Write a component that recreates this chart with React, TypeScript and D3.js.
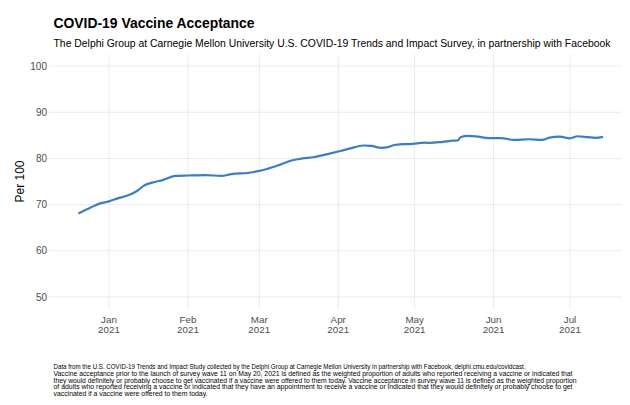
import React from "react";
import * as d3 from "d3";

const dates: string[] = [
  "2020-12-20","2020-12-25","2020-12-28","2021-01-01","2021-01-05","2021-01-08",
  "2021-01-12","2021-01-15","2021-01-19","2021-01-22","2021-01-27","2021-02-01",
  "2021-02-08","2021-02-14","2021-02-18","2021-02-25","2021-03-01","2021-03-04",
  "2021-03-09","2021-03-14","2021-03-18","2021-03-22","2021-03-29","2021-04-01",
  "2021-04-05","2021-04-11","2021-04-14","2021-04-18","2021-04-20","2021-04-23",
  "2021-04-27","2021-04-29","2021-05-05","2021-05-07","2021-05-12","2021-05-16",
  "2021-05-18","2021-05-19","2021-05-22","2021-05-26","2021-05-30","2021-06-04",
  "2021-06-09","2021-06-15","2021-06-20","2021-06-23","2021-06-27","2021-07-01",
  "2021-07-04","2021-07-08","2021-07-11","2021-07-14"
];
const acceptance: number[] = [
  68.05,69.4,70.15,70.7,71.45,71.9,
  72.95,74.2,74.9,75.3,76.2,76.3,
  76.4,76.2,76.6,76.9,77.3,77.7,
  78.6,79.6,80.0,80.25,81.1,81.5,
  82.05,82.8,82.7,82.3,82.4,82.9,
  83.1,83.1,83.4,83.35,83.6,83.85,
  83.9,84.6,84.9,84.7,84.4,84.4,
  84.0,84.15,84.0,84.5,84.7,84.35,
  84.8,84.6,84.45,84.65
];
const yTicks: number[] = [50, 60, 70, 80, 90, 100];
const monthTicks: string[] = ["2021-01-01","2021-02-01","2021-03-01","2021-04-01","2021-05-01","2021-06-01","2021-07-01"];
const monthLabels: string[] = ["Jan","Feb","Mar","Apr","May","Jun","Jul"];

const title = "COVID-19 Vaccine Acceptance";
const subtitle = "The Delphi Group at Carnegie Mellon University U.S. COVID-19 Trends and Impact Survey, in partnership with Facebook";
const captionLines: string[] = [
  "Data from the U.S. COVID-19 Trends and Impact Study collected by the Delphi Group at Carnegie Mellon University in partnership with Facebook, delphi.cmu.edu/covidcast.",
  "Vaccine acceptance prior to the launch of survey wave 11 on May 20, 2021 is defined as the weighted proportion of adults who reported receiving a vaccine or indicated that",
  "they would definitely or probably choose to get vaccinated if a vaccine were offered to them today. Vaccine acceptance in survey wave 11 is defined as the weighted proportion",
  "of adults who reported receiving a vaccine or indicated that they have an appointment to receive a vaccine or indicated that they would definitely or probably choose to get",
  "vaccinated if a vaccine were offered to them today."
];
const captionWidths: number[] = [472, 519, 523, 519, 154];

const parse = d3.timeParse("%Y-%m-%d");

export default function App() {
  const W = 630, H = 405;
  const left = 49, right = 622, top = 54.5, bottom = 308.5;
  const jan = parse("2021-01-01")!, jul = parse("2021-07-01")!;
  const anchor = d3.scaleTime().domain([jan, jul]).range([109, 570]);
  const x = d3.scaleTime().domain([anchor.invert(left), anchor.invert(right)]).range([left, right]);
  const y = d3.scaleLinear().domain([47.5, 102.5]).range([bottom, top]);
  const data = dates.map((d, i) => ({ d: parse(d)!, v: acceptance[i] }));
  const line = d3.line<{ d: Date; v: number }>().x(p => x(p.d)).y(p => y(p.v)).curve(d3.curveMonotoneX);
  const font = "'Liberation Sans', Arial, Helvetica, sans-serif";
  return (
    <svg width={W} height={H} style={{ position: "absolute", left: 0, top: 0, background: "#fff" }} fontFamily={font}>
      <rect width={W} height={H} fill="#fff" />
      {yTicks.map(t => (
        <line key={"h" + t} x1={left} x2={right} y1={y(t)} y2={y(t)} stroke="#ebebeb" strokeWidth={1} />
      ))}
      {monthTicks.map(m => (
        <line key={"v" + m} x1={x(parse(m)!)} x2={x(parse(m)!)} y1={top} y2={bottom} stroke="#ebebeb" strokeWidth={1} />
      ))}
      <path d={line(data) || ""} fill="none" stroke="#3A7FC1" strokeWidth={2.2} strokeLinejoin="round" strokeLinecap="butt" />
      {yTicks.map(t => (
        <text key={"yl" + t} x={47} y={y(t) + 3.6} textAnchor="end" fontSize={10} fill="#4d4d4d">{t}</text>
      ))}
      {monthTicks.map((m, i) => (
        <g key={"xl" + m}>
          <text x={x(parse(m)!)} y={322.5} textAnchor="middle" fontSize={9.8} fill="#4d4d4d">{monthLabels[i]}</text>
          <text x={x(parse(m)!)} y={332.8} textAnchor="middle" fontSize={9.8} fill="#4d4d4d">2021</text>
        </g>
      ))}
      <text transform={`translate(24,${(top + bottom) / 2}) rotate(-90)`} textAnchor="middle" fontSize={12} fill="#000">Per 100</text>
      <text x={53.5} y={28} fontSize={14} fontWeight="bold" fill="#000" textLength={201} lengthAdjust="spacingAndGlyphs">{title}</text>
      <text x={53.5} y={47} fontSize={10.6} fill="#000" textLength={557} lengthAdjust="spacingAndGlyphs">{subtitle}</text>
      {captionLines.map((c, i) => (
        <text key={"c" + i} x={53.5} y={369 + i * 6.8} fontSize={6.5} fill="#000" textLength={captionWidths[i]} lengthAdjust="spacingAndGlyphs">{c}</text>
      ))}
    </svg>
  );
}
